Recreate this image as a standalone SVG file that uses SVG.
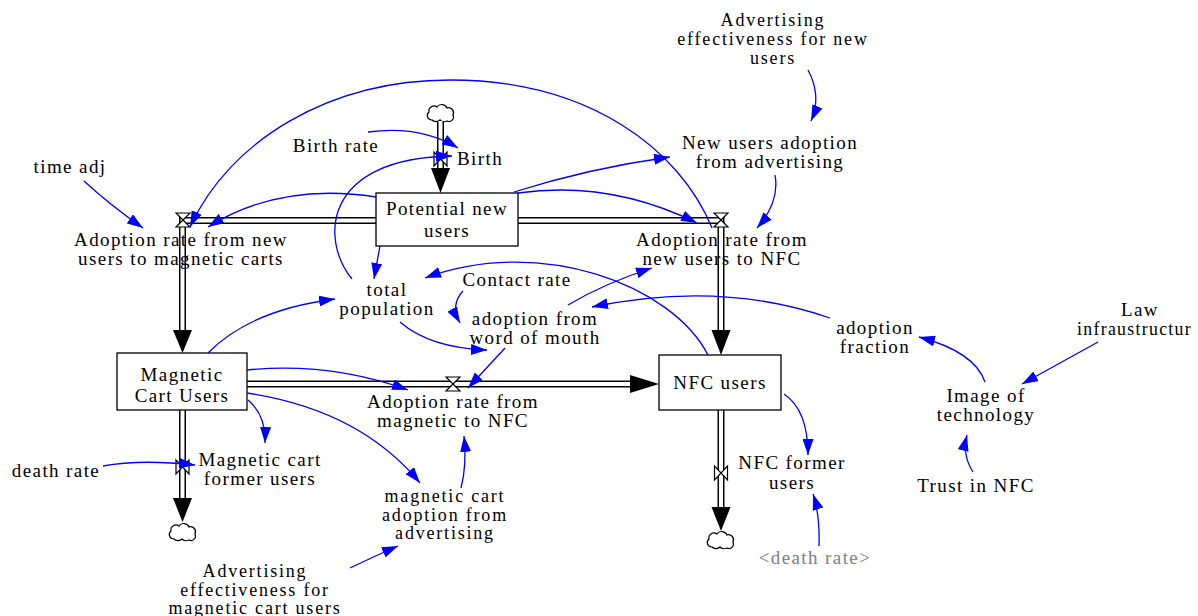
<svg xmlns="http://www.w3.org/2000/svg" width="1198" height="616" viewBox="0 0 1198 616">
<style>
text{font-family:"Liberation Serif","Times New Roman",serif;font-size:19px;letter-spacing:1.4px;fill:#000;text-anchor:middle}
.l{text-anchor:start}
.g{fill:#808080}
.s3{font-size:18px;letter-spacing:1.8px}
.c{fill:none;stroke:#0000ff;stroke-width:1.3;marker-end:url(#ah)}
.po{fill:none;stroke:#000;stroke-width:7;stroke-linejoin:miter}
.pi{fill:none;stroke:#fff;stroke-width:4;stroke-linejoin:miter}
.st{fill:#fff;stroke:#000;stroke-width:1.3}
.v{fill:#fff;stroke:#000;stroke-width:1.2}
.fa{fill:#000}
.cl{fill:#fff;stroke:#000;stroke-width:1.2}
</style>
<defs>
<marker id="ah" viewBox="0 0 16 11" refX="16" refY="5.5" markerWidth="16" markerHeight="11" markerUnits="userSpaceOnUse" orient="auto"><path d="M0,0 L16,5.5 L0,11 Z" fill="#0000ff"/></marker>
<path id="cloud" d="M-9,6 A4.5,4.5 0 0 1 -12,-2 A5,5 0 0 1 -4,-7 A5.5,5 0 0 1 6,-6 A5,5 0 0 1 12,1 A4.5,4.5 0 0 1 6,7 A5,4 0 0 1 -1,6 A5,4 0 0 1 -9,6 Z"/>
</defs>
<rect width="1198" height="616" fill="#fff"/>

<!-- flows -->
<g id="flow-birth">
<use href="#cloud" x="441" y="114" class="cl"/>
<path class="po" d="M440.5,122 V170"/><path class="pi" d="M440.5,121 V171"/>
<polygon class="fa" points="431,168 450,168 440.5,193"/>
<path class="v" d="M434,152 V166 L447,152 V166 Z"/>
<text class="l" x="457" y="165">Birth</text>
</g>
<g id="flow-adoption-new-to-magnetic">
<path class="po" d="M376,220.5 H182.5 V332"/><path class="pi" d="M377,220.5 H182.5 V333"/>
<polygon class="fa" points="173,330 192,330 182.5,353"/>
<path class="v" d="M176,213 H190 L176,227 H190 Z"/>
<text x="181" y="246">Adoption rate from new</text>
<text x="181" y="265">users to magnetic carts</text>
</g>
<g id="flow-adoption-new-to-nfc">
<path class="po" d="M518,220.5 H721 V332"/><path class="pi" d="M517,220.5 H721 V333"/>
<polygon class="fa" points="711.5,330 730.5,330 721,355"/>
<path class="v" d="M714,213 H728 L714,227 H728 Z"/>
<text x="722" y="246">Adoption rate from</text>
<text x="722" y="265">new users to NFC</text>
</g>
<g id="flow-adoption-magnetic-to-nfc">
<path class="po" d="M247,384 H632"/><path class="pi" d="M246,384 H633"/>
<polygon class="fa" points="630,375 630,393 659,384"/>
<path class="v" d="M446,377 H460 L446,391 H460 Z"/>
<text x="453" y="408">Adoption rate from</text>
<text x="453" y="427">magnetic to NFC</text>
</g>
<g id="flow-magnetic-cart-former-users">
<path class="po" d="M182.5,410 V500"/><path class="pi" d="M182.5,409 V501"/>
<polygon class="fa" points="173,498 192,498 182.5,522"/>
<path class="v" d="M176,460 V474 L189,460 V474 Z"/>
<use href="#cloud" x="183" y="533" class="cl"/>
<text x="260" y="466">Magnetic cart</text>
<text x="260" y="485">former users</text>
</g>
<g id="flow-nfc-former-users">
<path class="po" d="M721,410 V508"/><path class="pi" d="M721,409 V509"/>
<polygon class="fa" points="711.5,507 730.5,507 721,531"/>
<path class="v" d="M714.5,466 V480 L727.5,466 V480 Z"/>
<use href="#cloud" x="721" y="541" class="cl"/>
<text x="792" y="469">NFC former</text>
<text x="792" y="489">users</text>
</g>

<!-- stocks -->
<g id="potential-new-users">
<rect class="st" x="376" y="193" width="142" height="53"/>
<text x="447" y="215">Potential new</text>
<text x="447" y="237">users</text>
</g>
<g id="magnetic-cart-users">
<rect class="st" x="117" y="353" width="130" height="57"/>
<text x="182" y="381">Magnetic</text>
<text x="182" y="402">Cart Users</text>
</g>
<g id="nfc-users">
<rect class="st" x="659" y="355" width="122" height="55"/>
<text x="720" y="389">NFC users</text>
</g>

<!-- auxiliaries -->
<g id="adv-eff-new" class="s3"><text class="s3" x="773" y="26">Advertising</text><text class="s3" x="773" y="45">effectiveness for new</text><text class="s3" x="773" y="64">users</text></g>
<g id="new-users-adoption-adv"><text x="770" y="149">New users adoption</text><text x="770" y="168">from advertising</text></g>
<g id="birth-rate"><text x="336" y="152">Birth rate</text></g>
<g id="time-adj"><text x="70" y="173">time adj</text></g>
<g id="total-population"><text x="387" y="296">total</text><text x="387" y="315">population</text></g>
<g id="contact-rate"><text x="517" y="286">Contact rate</text></g>
<g id="adoption-wom"><text x="535" y="325">adoption from</text><text x="535" y="344">word of mouth</text></g>
<g id="law-infra"><text x="1140" y="316">Law</text><text class="l" x="1077" y="335" textLength="115" lengthAdjust="spacingAndGlyphs">infraustructur</text></g>
<g id="adoption-fraction"><text x="875" y="334">adoption</text><text x="875" y="353">fraction</text></g>
<g id="image-of-technology"><text x="986" y="402">Image of</text><text x="986" y="421">technology</text></g>
<g id="trust-in-nfc"><text x="976" y="492">Trust in NFC</text></g>
<g id="death-rate"><text x="56" y="477">death rate</text></g>
<g id="magnetic-cart-adoption-adv"><text class="s3" x="445" y="502">magnetic cart</text><text class="s3" x="445" y="520.5">adoption from</text><text class="s3" x="445" y="539">advertising</text></g>
<g id="death-rate-shadow"><text class="g" x="815" y="564">&lt;death rate&gt;</text></g>
<g id="adv-eff-magnetic"><text class="s3" x="255" y="577">Advertising</text><text class="s3" x="255" y="595.5">effectiveness for</text><text class="s3" x="255" y="614">magnetic cart users</text></g>

<!-- connectors -->
<g id="connectors">
<path class="c" d="M808,70 Q822,96 811,121"/>
<path class="c" d="M775,175 Q780,202 757,228"/>
<path class="c" d="M368,132 Q420,125 458,148"/>
<path class="c" d="M352,279 C320,240 322,158 452,156"/>
<path class="c" d="M380,246 Q377,262 374,279"/>
<path class="c" d="M376,197 Q280,182 208,227"/>
<path class="c" d="M712,228 C680,150 590,80 450,80 C330,80 230,140 190,227"/>
<path class="c" d="M514,192 Q590,168 670,157"/>
<path class="c" d="M518,193 Q610,180 697,223"/>
<path class="c" d="M708,355 C672,285 540,235 425,278"/>
<path class="c" d="M463,291 Q450,305 460,323"/>
<path class="c" d="M400,322 Q430,348 487,350"/>
<path class="c" d="M505,348 L468,388"/>
<path class="c" d="M568,305 Q605,283 652,268"/>
<path class="c" d="M830,318 Q720,280 592,307"/>
<path class="c" d="M985,382 Q975,352 919,337"/>
<path class="c" d="M1098,342 L1022,384"/>
<path class="c" d="M973,472 Q962,455 967,435"/>
<path class="c" d="M208,353 Q250,310 335,299"/>
<path class="c" d="M247,370 Q330,362 408,390"/>
<path class="c" d="M248,400 Q266,415 265,443"/>
<path class="c" d="M247,393 Q360,410 420,483"/>
<path class="c" d="M461,488 Q467,465 464,436"/>
<path class="c" d="M350,568 Q375,556 398,546"/>
<path class="c" d="M103,466 Q140,459 195,465"/>
<path class="c" d="M819,546 Q820,515 813,494"/>
<path class="c" d="M784,394 Q808,410 808,455"/>
<path class="c" d="M84,181 Q110,205 143,228"/>
</g>
</svg>
